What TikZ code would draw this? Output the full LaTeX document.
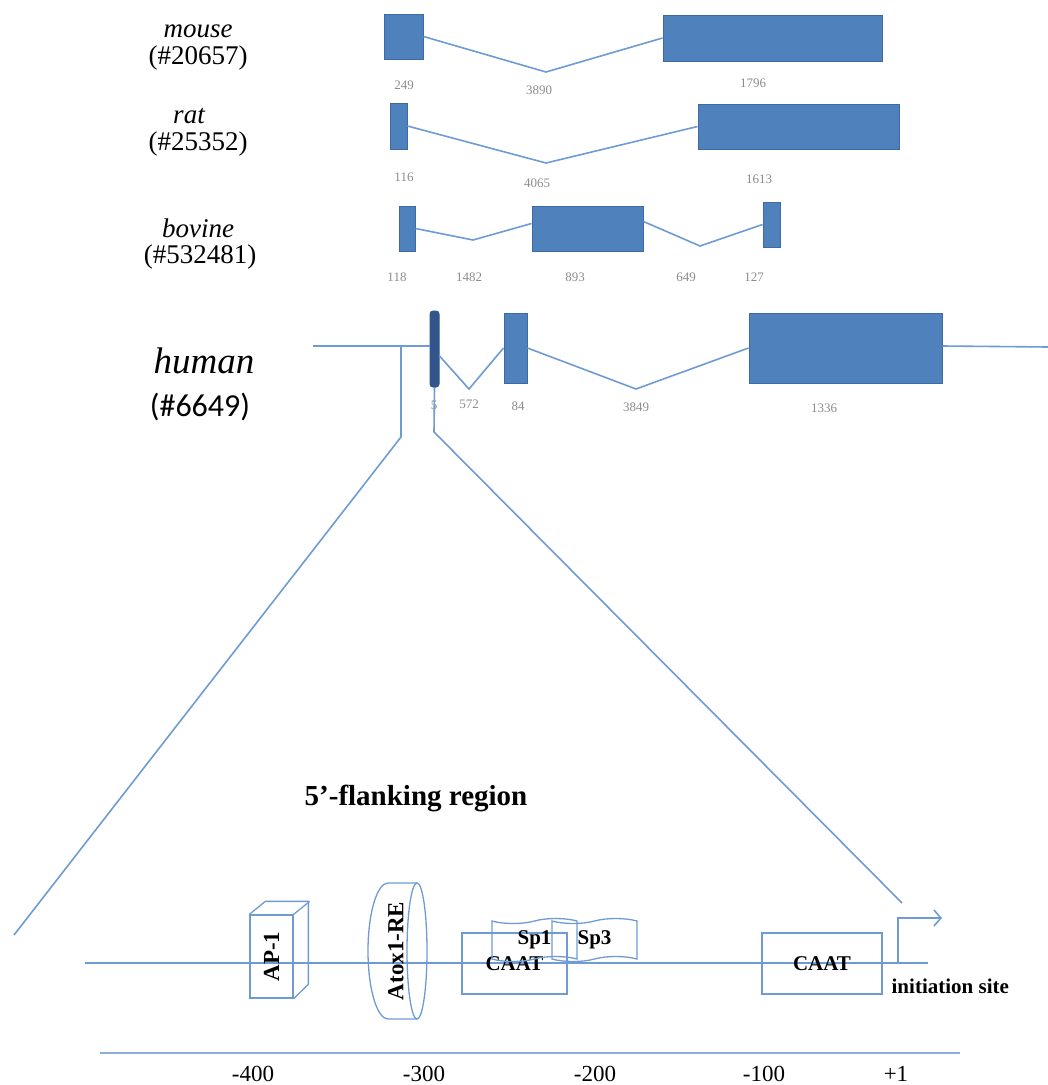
\documentclass[tikz,border=0pt]{standalone}
\usepackage{fontspec}
\setmainfont{Liberation Serif}
\newfontfamily\calfont{Carlito}
\usetikzlibrary{arrows.meta,shapes.symbols}
\definecolor{exonblue}{RGB}{79,129,189}
\definecolor{exonedge}{RGB}{61,106,163}
\definecolor{darkexon}{RGB}{50,86,140}
\definecolor{linkblue}{RGB}{110,155,212}
\definecolor{numgrey}{RGB}{140,140,140}
\begin{document}
\begin{tikzpicture}[x=1pt,y=-1pt,
  exon/.style={draw=exonedge,fill=exonblue,line width=1pt,inner sep=0pt},
  intron/.style={draw=linkblue,line width=1.6pt},
  numlab/.style={text=numgrey,font=\fontsize{13}{14}\selectfont},
  species/.style={font=\fontsize{27}{29}\selectfont\itshape},
  acc/.style={font=\fontsize{27}{29}\selectfont},
  site/.style={draw=linkblue,line width=1.3pt,inner sep=0pt,font=\fontsize{21}{22}\selectfont\bfseries},
  turned/.style={site,draw=none,font=\fontsize{23}{24}\selectfont\bfseries},
  tapebox/.style={site,tape,tape bend height=5pt,minimum width=85pt,minimum height=43pt}]
\useasboundingbox (0,0) rectangle (1048,1085);
% mouse
\node[species] (mname) at (198,31) {mouse};
\node[acc] (mid) at (198,58) {(\#20657)};
\node[exon,minimum width=39pt,minimum height=45pt] (m1) at (403.5,36.5) {};
\node[exon,minimum width=219pt,minimum height=46pt] (m2) at (772.5,38) {};
\draw[intron] (m1.east) -- (546,72) -- (m2.west);
\node[numlab] at (404,85) {249};
\node[numlab] at (539,90) {3890};
\node[numlab] at (753,83) {1796};
% rat
\node[species] (rname) at (189,116) {rat};
\node[acc] (rid) at (198,144) {(\#25352)};
\node[exon,minimum width=17pt,minimum height=46pt] (r1) at (398.5,126) {};
\node[exon,minimum width=201pt,minimum height=45pt] (r2) at (798.5,126.5) {};
\draw[intron] (r1.east) -- (546,163) -- (r2.west);
\node[numlab] at (404,177) {116};
\node[numlab] at (537,183) {4065};
\node[numlab] at (759,179) {1613};
% bovine
\node[species] (bname) at (198,228) {bovine};
\node[acc] (bid) at (200,257) {(\#532481)};
\node[exon,minimum width=16pt,minimum height=45pt] (b1) at (407,228.5) {};
\node[exon,minimum width=111pt,minimum height=45pt] (b2) at (587.5,228.5) {};
\node[exon,minimum width=17pt,minimum height=45pt] (b3) at (771.5,224.5) {};
\draw[intron] (b1.east) -- (473,240) -- ([yshift=5pt]b2.west);
\draw[intron] ([yshift=7pt]b2.east) -- (700,246) -- (b3.west);
\node[numlab] at (397,277) {118};
\node[numlab] at (469,277) {1482};
\node[numlab] at (575,277) {893};
\node[numlab] at (686,277) {649};
\node[numlab] at (754,277) {127};
% human
\node[font=\fontsize{37}{39}\selectfont\itshape] (hname) at (204,361) {human};
\node[font=\fontsize{32}{34}\selectfont\calfont] (hid) at (200,407) {(\#6649)};
\node[exon,draw=darkexon,fill=darkexon,rounded corners=3pt,minimum width=9pt,minimum height=76pt] (h1) at (434.5,349) {};
\node[exon,minimum width=23pt,minimum height=70pt] (h2) at (515.5,348) {};
\node[exon,minimum width=193pt,minimum height=70pt] (h3) at (845.5,348) {};
\coordinate (hs) at (313,346);
\coordinate (he) at (1048,347);
\draw[intron] (hs) -- ([yshift=3pt]h1.west);
\draw[intron] ([yshift=-7pt]h1.east) -- (469,389) -- (h2.west);
\draw[intron] (h2.east) -- (636,389) -- (h3.west);
\draw[intron] ([yshift=2pt]h3.east) -- (he);
\node[numlab] at (434,405) {5};
\node[numlab] at (469,404) {572};
\node[numlab] at (518,406) {84};
\node[numlab] at (636,407) {3849};
\node[numlab] at (824,408) {1336};
% zoom onto the 5'-flanking region
\coordinate (zl) at (401,346);
\draw[intron] (zl) -- (401,437) -- (14,935);
\draw[intron] (h1.south) -- (434,432) -- (902,903);
\node[font=\fontsize{29}{31}\selectfont\bfseries] (title) at (416,798) {5'-flanking region};
% promoter
\draw[intron] (85,963) -- (928,963);
\node[site,minimum width=43pt,minimum height=83pt] (ap1) at (271.5,956.5) {\rotatebox{90}{\fontsize{23}{24}\selectfont AP-1}};
\draw[site] (ap1.north west) -- ++(16,-13) -- ++(43,0) -- ++(0,83) -- (ap1.south east);
\draw[site] (ap1.north east) -- ++(16,-13);
\draw[site] (417,883) -- (388,883) arc[start angle=90,end angle=270,x radius=20pt,y radius=68pt] -- (417,1019);
\draw[site] (417,951) ellipse[x radius=10pt,y radius=68pt];
\node[turned] (atox) at (396,951) {\rotatebox{90}{Atox1-RE}};
\node[site,minimum width=105pt,minimum height=61pt] (caat1) at (514.5,963.5) {CAAT};
\node[tapebox] (sp1) at (534.5,940) {Sp1};
\node[tapebox] (sp3) at (594.5,940) {Sp3};
\node[site,minimum width=120pt,minimum height=61pt] (caat2) at (822,963.5) {CAAT};
\coordinate (tss) at (898,963);
\draw[intron,-{Straight Barb[length=7pt,width=16pt]}] (tss) -- (898,918) -- (942,918);
\node[site,draw=none,anchor=west] (init) at (891,986) {initiation site};
% scale
\draw[draw=linkblue!80,line width=2.4pt] (100,1053) -- (960,1053);
\foreach \pos/\lab in {253/-400,424/-300,595/-200,764/-100,896/+1}
  \node[font=\fontsize{23}{24}\selectfont] at (\pos,1074) {\lab};
\end{tikzpicture}
\end{document}
